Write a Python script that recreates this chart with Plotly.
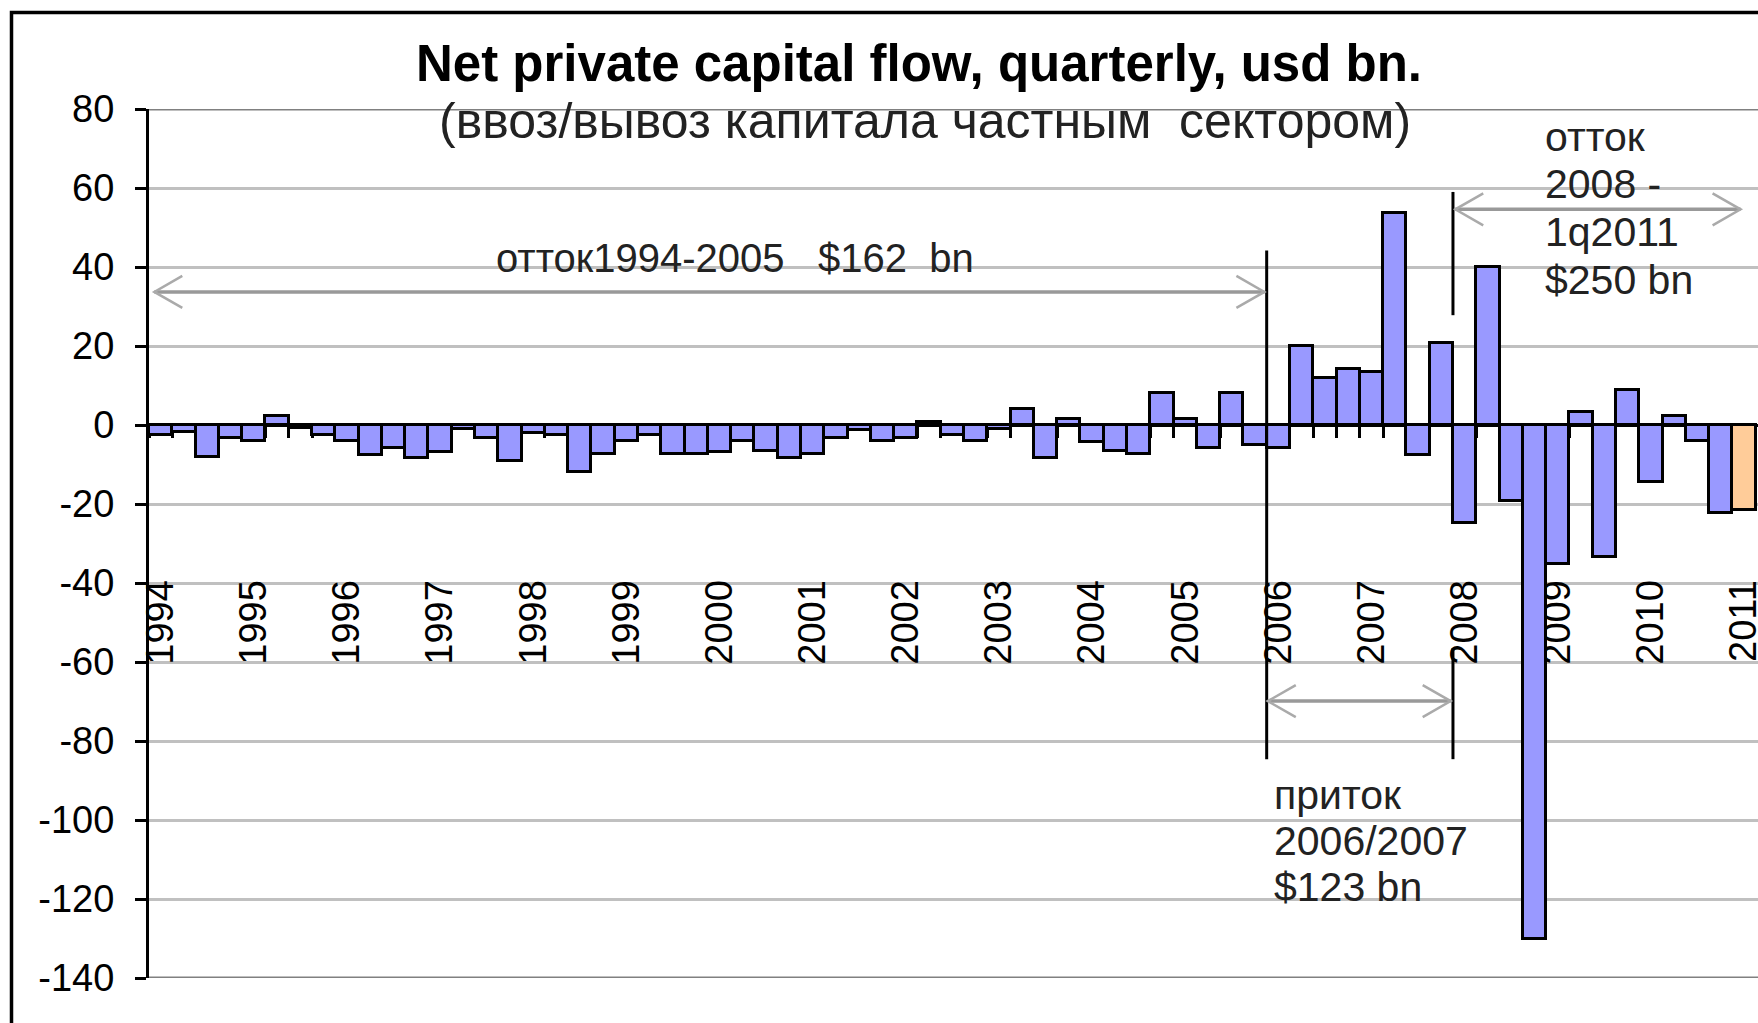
import plotly.graph_objects as go

# ---- data ----
years = [str(y) for y in range(1994, 2012)]
quarter_index = list(range(69))  # 1994Q1 .. 2011Q1
flows = [
    -2.5, -1.7, -8.2, -3.4,      # 1994
    -4.1, 2.2, -0.8, -2.5,       # 1995
    -4.1, -7.5, -5.8, -8.3,      # 1996
    -6.8, -1.0, -3.4, -9.0,      # 1997
    -1.9, -2.5, -12.0, -7.4,     # 1998
    -4.0, -2.5, -7.4, -7.4,      # 1999
    -6.8, -4.1, -6.5, -8.3,      # 2000
    -7.4, -3.4, -1.2, -4.1,      # 2001
    -3.4, 0.8, -2.5, -4.1,       # 2002
    -1.0, 4.1, -8.3, 1.5,        # 2003
    -4.2, -6.7, -7.4, 8.0,       # 2004
    1.5, -5.9, 8.0, -5.0,        # 2005
    -5.9, 20.0, 12.0, 14.3,      # 2006
    13.5, 53.6, -7.5, 20.8,      # 2007
    -24.8, 40.0, -19.3, -130.0,  # 2008
    -35.1, 3.2, -33.5, 8.8,      # 2009
    -14.4, 2.3, -4.1, -22.4,     # 2010
    -21.4,                       # 2011 Q1
]
year_ticks = [i * 4 for i in range(len(years))]
y_ticks = [-140, -120, -100, -80, -60, -40, -20, 0, 20, 40, 60, 80]
y_ticktext = ["-140", "-120", "-100", "-80", "-60", "-40", "-20", "0", "20", "40", "60", "80"]
bar_colors = ["#9999FF"] * (len(flows) - 1) + ["#FFCC99"]

FONT = "Arial, Liberation Sans, sans-serif"
W, H = 1758, 1023
ML, MR, MT, MB = 149, 0, 109, 45
PW, PH = W - ML - MR, H - MT - MB
YMIN, YMAX = -140, 80
XMIN, XMAX = -0.5, 68.6


def px_x(px):
    return (px - ML) / PW


def px_y(py):
    return (H - MB - py) / PH


fig = go.Figure()
fig.add_trace(go.Bar(
    x=quarter_index, y=flows,
    marker=dict(color=bar_colors, line=dict(color="black", width=3)),
    width=1.0, hoverinfo="y",
))

fig.update_layout(
    width=W, height=H, autosize=False,
    margin=dict(l=ML, r=MR, t=MT, b=MB, pad=0),
    paper_bgcolor="white", plot_bgcolor="white",
    showlegend=False, bargap=0,
    font=dict(family=FONT, color="black"),
)

fig.update_xaxes(
    type="linear", range=[XMIN, XMAX], automargin=False,
    anchor="free", position=(0 - YMIN) / (YMAX - YMIN),
    showline=True, linecolor="black", linewidth=3,
    showgrid=False, zeroline=False,
    tickmode="array", tickvals=year_ticks, ticktext=years,
    tickangle=-90, ticks="", ticklabelstandoff=138,
    ticklabeloverflow="allow",
    tickfont=dict(family=FONT, size=38, color="black"),
    minor=dict(tickmode="array", tickvals=[i - 0.5 for i in range(70)],
               ticks="outside", ticklen=11, tickwidth=3, tickcolor="black",
               showgrid=False),
    layer="below traces",
)
fig.update_yaxes(
    range=[YMIN, YMAX], automargin=False,
    tickmode="array", tickvals=y_ticks, ticktext=y_ticktext,
    showline=True, linecolor="black", linewidth=3,
    ticks="outside", ticklen=11, tickwidth=3, tickcolor="black",
    showgrid=True, gridcolor="#C0C0C0", gridwidth=3,
    zeroline=False, ticklabelstandoff=13,
    tickfont=dict(family=FONT, size=38, color="black"),
)

shapes = []
# darker top / bottom plot-area lines
for yv in (YMAX, YMIN):
    shapes.append(dict(type="line", xref="paper", yref="y", x0=0, x1=1.01,
                       y0=yv, y1=yv, line=dict(color="#808080", width=3)))
# outer chart frame
shapes.append(dict(type="rect", xref="paper", yref="paper",
                   x0=px_x(11.5), x1=1.05, y0=px_y(1040), y1=px_y(12.5),
                   line=dict(color="black", width=3.5), fillcolor="rgba(0,0,0,0)"))

# vertical black markers
for x, y0, y1 in [(47.5, 44.2, -84.6), (55.5, 59.0, 27.8), (55.5, -56.5, -84.6)]:
    shapes.append(dict(type="line", xref="x", yref="y", x0=x, x1=x, y0=y0, y1=y1,
                       line=dict(color="black", width=3)))

# gray double arrows with open chevron heads
ARM_X, ARM_Y = 1.2, 4.05
for xa, xb, yv in [(-0.27, 47.4, 33.7), (47.55, 55.4, -69.9), (55.6, 67.85, 54.6)]:
    shapes.append(dict(type="line", xref="x", yref="y", x0=xa, x1=xb, y0=yv, y1=yv,
                       line=dict(color="#999999", width=3.5)))
    shapes.append(dict(type="path", xref="x", yref="y",
                       path=f"M {xa+ARM_X},{yv+ARM_Y} L {xa},{yv} L {xa+ARM_X},{yv-ARM_Y}",
                       line=dict(color="#AAAAAA", width=2.5)))
    shapes.append(dict(type="path", xref="x", yref="y",
                       path=f"M {xb-ARM_X},{yv+ARM_Y} L {xb},{yv} L {xb-ARM_X},{yv-ARM_Y}",
                       line=dict(color="#AAAAAA", width=2.5)))
fig.update_layout(shapes=shapes)

ann = []
ann.append(dict(text="<b>Net private capital flow, quarterly, usd bn.</b>",
                xref="paper", yref="paper", x=px_x(919), y=px_y(63),
                xanchor="center", yanchor="middle", showarrow=False,
                font=dict(family=FONT, size=51, color="black")))
ann.append(dict(text="(ввоз/вывоз капитала частным\u00a0\u00a0сектором)",
                xref="paper", yref="paper", x=px_x(925), y=px_y(121),
                xanchor="center", yanchor="middle", showarrow=False,
                font=dict(family=FONT, size=50, color="#222222")))
ann.append(dict(text="отток1994-2005\u00a0\u00a0\u00a0$162\u00a0\u00a0bn",
                xref="paper", yref="paper", x=px_x(494), y=px_y(258),
                xanchor="left", yanchor="middle", showarrow=False,
                font=dict(family=FONT, size=40, color="#222222")))
for txt, yy in [("приток", 795), ("2006/2007", 841), ("$123\u00a0bn", 887)]:
    ann.append(dict(text=txt, xref="paper", yref="paper", x=px_x(1272), y=px_y(yy),
                    xanchor="left", yanchor="middle", showarrow=False,
                    font=dict(family=FONT, size=41, color="#222222")))
for txt, yy in [("отток", 137), ("2008 -", 184), ("1q2011", 232), ("$250\u00a0bn", 280)]:
    ann.append(dict(text=txt, xref="paper", yref="paper", x=px_x(1543), y=px_y(yy),
                    xanchor="left", yanchor="middle", showarrow=False,
                    font=dict(family=FONT, size=41, color="#222222")))
fig.update_layout(annotations=ann)

fig.write_html("out.html", config={"displayModeBar": False},
               post_script="document.body.style.margin='0';document.body.style.overflow='hidden';")
